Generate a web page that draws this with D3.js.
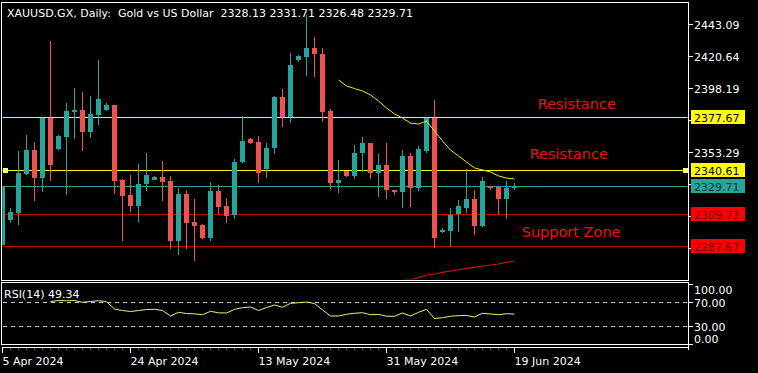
<!DOCTYPE html>
<html>
<head>
<meta charset="utf-8">
<script src="https://cdn.jsdelivr.net/npm/d3@7"></script>
<style>
  html, body { margin: 0; padding: 0; background: #000; }
  svg { display: block; }
  text { font-family: "DejaVu Sans", sans-serif; }
</style>
</head>
<body>
<svg id="chart" width="758" height="373"></svg>
<script>
// ---------------- DATA ----------------
const titleText = "XAUUSD.GX, Daily:  Gold vs US Dollar  2328.13 2331.71 2326.48 2329.71";
const openP = [2288.05, 2305.59, 2310.50, 2337.86, 2354.70, 2335.05, 2377.15, 2355.40, 2363.82, 2381.36,
  2382.76, 2367.32, 2379.25, 2382.76, 2386.27, 2333.65, 2323.13, 2315.41, 2330.84, 2333.65,
  2335.75, 2332.95, 2290.85, 2323.83, 2304.18, 2302.08, 2292.96, 2325.93, 2315.41, 2309.09,
  2346.28, 2362.41, 2360.31, 2341.37, 2356.10, 2391.88, 2377.85, 2417.83, 2419.94, 2426.25,
  2422.04, 2382.06, 2331.54, 2339.96, 2336.46, 2352.59, 2359.61, 2338.56, 2344.17, 2326.63,
  2325.23, 2350.49, 2328.04, 2353.99, 2377.15, 2297.17, 2297.87, 2309.80, 2314.01, 2320.32,
  2301.38, 2329.44, 2328.74, 2320.32, 2328.13];
const highP = [2329.44, 2314.01, 2353.99, 2365.22, 2360.31, 2377.60, 2431.16, 2365.22, 2387.67, 2398.19,
  2395.39, 2392.58, 2417.83, 2387.67, 2386.50, 2334.35, 2337.16, 2344.87, 2352.59, 2336.46,
  2346.98, 2336.46, 2328.04, 2326.63, 2320.32, 2302.78, 2332.25, 2330.14, 2321.02, 2348.38,
  2378.55, 2363.11, 2364.52, 2359.61, 2392.30, 2397.49, 2422.74, 2421.00, 2449.40, 2433.97,
  2426.25, 2383.46, 2347.68, 2340.20, 2358.20, 2363.82, 2359.80, 2351.89, 2359.61, 2326.80,
  2354.70, 2352.59, 2357.50, 2377.85, 2389.77, 2299.97, 2314.01, 2319.62, 2341.37, 2326.63,
  2335.75, 2329.60, 2328.90, 2332.95, 2331.71];
const lowP = [2287.35, 2303.48, 2302.08, 2337.16, 2318.92, 2325.23, 2332.95, 2354.70, 2323.13, 2362.41,
  2353.99, 2363.11, 2372.23, 2382.06, 2323.83, 2290.85, 2311.20, 2304.18, 2325.93, 2333.30,
  2318.92, 2285.24, 2281.03, 2285.24, 2276.82, 2292.26, 2290.85, 2309.80, 2303.48, 2306.29,
  2345.58, 2358.91, 2331.54, 2335.05, 2351.89, 2370.83, 2373.64, 2416.43, 2406.61, 2405.91,
  2374.34, 2327.34, 2324.53, 2335.75, 2334.35, 2339.26, 2334.35, 2321.72, 2320.32, 2323.13,
  2314.01, 2314.71, 2325.93, 2352.59, 2285.94, 2296.47, 2287.35, 2297.17, 2310.50, 2295.06,
  2300.68, 2326.63, 2309.80, 2306.29, 2326.48];
const closeP = [2328.95, 2311.20, 2338.56, 2354.70, 2335.05, 2377.15, 2344.17, 2364.52, 2382.06, 2382.76,
  2367.32, 2379.95, 2390.48, 2386.27, 2332.95, 2322.42, 2315.41, 2330.84, 2337.16, 2335.75,
  2332.25, 2290.85, 2323.83, 2303.48, 2301.38, 2292.96, 2325.93, 2314.71, 2308.39, 2346.28,
  2361.01, 2359.61, 2338.56, 2356.10, 2391.88, 2377.85, 2414.33, 2420.64, 2426.25, 2422.04,
  2381.36, 2331.54, 2333.65, 2336.46, 2352.59, 2359.61, 2338.56, 2344.17, 2326.63, 2325.23,
  2350.49, 2328.04, 2355.40, 2377.15, 2292.96, 2298.57, 2309.09, 2315.41, 2320.32, 2301.38,
  2332.95, 2328.04, 2320.32, 2328.13, 2329.71];

// moving average (yellow), first bar index 42
const maStart = 42;
const maValues = [2403.8, 2399.6, 2397.8, 2396.1, 2393.3, 2389.1, 2384.2, 2380.0, 2377.1, 2373.6,
  2372.9, 2375.0, 2368.0, 2361.0, 2354.7, 2350.5, 2346.3, 2342.1, 2340.7, 2339.3, 2336.5, 2335.0, 2334.4];
// long moving average (red), first bar index 49
const ma2Start = 49;
const ma2Values = [2261.4, 2262.8, 2263.8, 2265.2, 2267.0, 2267.7, 2268.8, 2269.8, 2270.5, 2271.6,
  2272.3, 2273.3, 2274.0, 2274.7, 2275.8, 2276.8];

// RSI(14), first bar index 6
const rsiStart = 6;
const rsiValues = [70.3, 72.0, 71.5, 72.0, 69.0, 70.3, 71.7, 70.0, 57.8, 55.3,
  53.7, 55.3, 57.0, 57.3, 55.3, 46.2, 52.3, 50.3, 49.8, 48.3,
  54.0, 51.5, 51.2, 57.3, 60.0, 61.2, 55.3, 60.3, 64.5, 60.7,
  67.3, 68.3, 69.5, 67.0, 56.2, 46.2, 46.2, 49.0, 50.7, 51.7,
  48.3, 49.0, 45.7, 45.7, 51.2, 46.2, 52.3, 57.3, 42.0, 43.3,
  45.8, 46.7, 47.0, 44.5, 50.7, 49.5, 48.3, 50.0, 49.34];
const rsiLabel = "RSI(14) 49.34";
const rsiTicks = [100, 70, 30, 0];
const rsiLevels = [70, 30];

const priceTicks = [2443.09, 2420.64, 2398.19, 2375.74, 2353.29, 2330.84, 2308.39, 2285.94];
const levelPrices = [2377.67, 2340.61, 2329.71, 2309.73, 2287.67];
const levelKinds  = ["resist", "resist", "current", "support", "support"];

const dateTickBars = [0, 16, 32, 48, 64];
const dateTickLabels = ["5 Apr 2024", "24 Apr 2024", "13 May 2024", "31 May 2024", "19 Jun 2024"];

const noteTexts = ["Resistance", "Resistance", "Support Zone"];
const noteBars = [66.9, 65.9, 64.9];
const notePrices = [2383.5, 2348.2, 2294.0];

// ---------------- DRAWING ----------------
const N = openP.length;
const svg = d3.select("#chart");
const W = 758, H = 373;
const plotL = 2, plotR = 688, mainT = 2.5, mainB = 280, rsiT = 282.5, rsiB = 344;

const COL_UP = "#26a69a", COL_DN = "#ef5350";
const levelStyle = {
  resist:  { line: "#ffff00", box: "#ffff00", text: "#000000" },
  current: { line: "#26a69a", box: "#26a69a", text: "#0b3431" },
  support: { line: "#c80000", box: "#ff0000", text: "#6a0000" }
};

const slot = 8;
const x = d3.scaleBand().domain(d3.range(N)).range([-1.5, -1.5 + slot * N]);
const xb = i => x(i) + x.bandwidth() / 2;
const y = d3.scaleLinear().domain([2285.94, 2443.09]).range([248, 24]);
const ry = d3.scaleLinear().domain([0, 100]).range([343.7, 283.7]);

svg.append("rect").attr("width", W).attr("height", H).attr("fill", "#000");

const defs = svg.append("defs");
defs.append("clipPath").attr("id", "clipMain").append("rect")
  .attr("x", plotL + 0.5).attr("y", mainT + 0.5).attr("width", plotR - plotL - 1).attr("height", mainB - mainT - 1);
defs.append("clipPath").attr("id", "clipRsi").append("rect")
  .attr("x", plotL + 0.5).attr("y", rsiT + 0.5).attr("width", plotR - plotL - 1).attr("height", rsiB - rsiT - 1);

const main = svg.append("g").attr("clip-path", "url(#clipMain)");

// horizontal level lines
levelPrices.forEach((p, k) => {
  const yy = Math.round(y(p)) + 0.5;
  main.append("line").attr("x1", plotL).attr("x2", plotR).attr("y1", yy).attr("y2", yy)
    .attr("stroke", levelStyle[levelKinds[k]].line).attr("stroke-width", 1)
    .attr("shape-rendering", "crispEdges");
});

// candles
const cg = main.append("g").attr("shape-rendering", "crispEdges");
d3.range(N).forEach(i => {
  const o = openP[i], c = closeP[i], h = highP[i], l = lowP[i];
  const col = c >= o ? COL_UP : COL_DN;
  const cx = xb(i);
  const yh = Math.round(y(h)), yl = Math.round(y(l));
  cg.append("rect").attr("x", cx - 0.5).attr("y", yh).attr("width", 1).attr("height", Math.max(1, yl - yh)).attr("fill", col);
  const top = Math.round(y(Math.max(o, c))), bot = Math.round(y(Math.min(o, c)));
  cg.append("rect").attr("x", cx - 2.5).attr("y", top).attr("width", 5).attr("height", Math.max(2, bot - top)).attr("fill", col);
});

// moving averages
const maLine = d3.line().x(d => xb(d[0])).y(d => y(d[1]));
main.append("path").datum(maValues.map((v, k) => [maStart + k, v]))
  .attr("d", maLine).attr("fill", "none").attr("stroke", "#ecec10").attr("stroke-width", 1);
main.append("path").datum(ma2Values.map((v, k) => [ma2Start + k, v]))
  .attr("d", maLine).attr("fill", "none").attr("stroke", "#c81818").attr("stroke-width", 1.2);

// handles on the 2340.61 line
const hy = Math.round(y(levelPrices[1]));
[[3, hy - 2], [683, hy - 2]].forEach(p => {
  svg.append("rect").attr("x", p[0]).attr("y", p[1]).attr("width", 5).attr("height", 5).attr("fill", "#ffff80");
});

// annotation texts
noteTexts.forEach((t, k) => {
  svg.append("text").attr("x", xb(0) + (noteBars[k]) * slot).attr("y", y(notePrices[k]))
    .attr("fill", "#ee1111").attr("font-size", "14.5px").text(t);
});

// title
svg.append("text").attr("x", 7).attr("y", 17).attr("fill", "#fff").attr("font-size", "11px")
  .style("white-space", "pre").text(titleText);

// frames
const frames = svg.append("g").attr("fill", "none").attr("stroke", "#fff").attr("shape-rendering", "crispEdges");
frames.append("rect").attr("x", plotL - 0.5).attr("y", mainT).attr("width", plotR - plotL + 1).attr("height", mainB - mainT);
frames.append("rect").attr("x", plotL - 0.5).attr("y", rsiT).attr("width", plotR - plotL + 1).attr("height", rsiB - rsiT);
frames.append("line").attr("x1", plotL - 0.5).attr("x2", plotR + 0.5).attr("y1", 347.5).attr("y2", 347.5);
frames.append("line").attr("x1", plotR + 0.5).attr("x2", plotR + 0.5).attr("y1", 344).attr("y2", 350);

// price axis (tick labels hidden behind level boxes are skipped)
const pa = svg.append("g");
priceTicks.forEach(p => {
  const yy = Math.round(y(p)) + 0.5;
  pa.append("line").attr("x1", plotR + 0.5).attr("x2", plotR + 5).attr("y1", yy).attr("y2", yy)
    .attr("stroke", "#fff").attr("shape-rendering", "crispEdges");
  const covered = levelPrices.some(lp => Math.abs(y(lp) - y(p)) < 13);
  if (!covered) {
    pa.append("text").attr("x", 694).attr("y", yy + 4).attr("fill", "#fff").attr("font-size", "11px").text(p.toFixed(2));
  }
});
levelPrices.forEach((p, k) => {
  const st = levelStyle[levelKinds[k]];
  const yy = Math.round(y(p));
  pa.append("rect").attr("x", 691).attr("y", yy - 7).attr("width", 54).attr("height", 14).attr("fill", st.box);
  pa.append("text").attr("x", 694).attr("y", yy + 4.5).attr("fill", st.text).attr("font-size", "11px").text(p.toFixed(2));
});

// RSI panel
const rg = svg.append("g");
rsiLevels.forEach(v => {
  rg.append("line").attr("x1", plotL + 1).attr("x2", plotR).attr("y1", Math.round(ry(v)) + 0.5).attr("y2", Math.round(ry(v)) + 0.5)
    .attr("stroke", "#c8c8c8").attr("stroke-dasharray", "4,4").attr("shape-rendering", "crispEdges");
});
rg.append("g").attr("clip-path", "url(#clipRsi)").append("path")
  .datum(rsiValues.map((v, k) => [rsiStart + k, v]))
  .attr("d", d3.line().x(d => xb(d[0])).y(d => ry(d[1])))
  .attr("fill", "none").attr("stroke", "#f0f07a").attr("stroke-width", 1);
rg.append("text").attr("x", 4).attr("y", 298).attr("fill", "#fff").attr("font-size", "11px").text(rsiLabel);
rsiTicks.forEach(v => {
  const yy = Math.round(ry(v)) + 0.5;
  rg.append("line").attr("x1", plotR + 0.5).attr("x2", plotR + 5).attr("y1", yy).attr("y2", yy)
    .attr("stroke", "#fff").attr("shape-rendering", "crispEdges");
  let ty = yy + 4;
  if (v === 100) ty = yy + 9;
  if (v === 0) ty = yy - 2;
  rg.append("text").attr("x", 694).attr("y", ty).attr("fill", "#fff").attr("font-size", "11px").text(v.toFixed(2));
});

// time axis
const ta = svg.append("g").attr("shape-rendering", "crispEdges");
d3.range(N).forEach(i => {
  const col = closeP[i] >= openP[i] ? "#1f6b63" : "#8a3a3a";
  ta.append("line").attr("x1", xb(i)).attr("x2", xb(i)).attr("y1", 348).attr("y2", 350).attr("stroke", col);
});
dateTickBars.forEach((b, k) => {
  const xx = xb(b);
  ta.append("line").attr("x1", xx).attr("x2", xx).attr("y1", 347.5).attr("y2", 353).attr("stroke", "#fff");
  svg.append("text").attr("x", Math.max(2, xx)).attr("y", 364.5).attr("fill", "#fff").attr("font-size", "11px").text(dateTickLabels[k]);
});
</script>
</body>
</html>
